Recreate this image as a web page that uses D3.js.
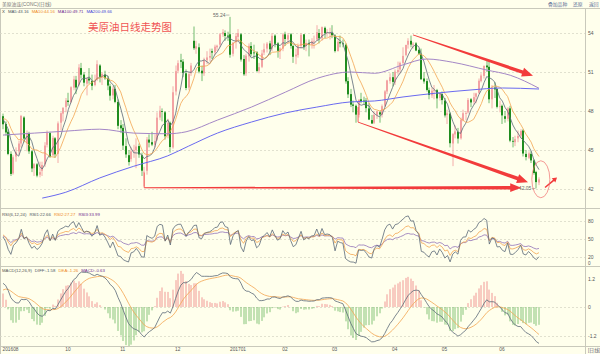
<!DOCTYPE html>
<html>
<head>
<meta charset="utf-8">
<script src="https://cdn.jsdelivr.net/npm/d3@7"></script>
<style>
body{margin:0;background:#fff}
svg{display:block;font-family:"Liberation Sans","Noto Sans CJK SC",sans-serif}
</style>
</head>
<body>
<div id="chart"></div>
<script>
// daily bars [open, high, low, close], one array per month
const aug16 = [
	[47.60,47.80,46.60,46.98],[47.00,47.20,46.10,46.35],[46.40,46.60,44.60,44.70]
];
const sep16 = [
	[44.70,44.90,43.00,43.16],[43.20,44.60,43.10,44.44],[44.50,45.20,44.10,44.83],[44.90,45.70,44.60,45.50],
	[45.50,47.70,45.20,47.62],[47.50,47.60,45.60,45.88],[45.50,46.50,44.90,46.29],[46.30,46.40,44.70,44.90],
	[44.90,45.00,43.30,43.58],[43.60,44.00,43.00,43.91],[43.90,44.00,42.90,43.03],[43.10,44.10,42.90,43.30],
	[43.40,44.10,43.00,43.85],[43.90,45.60,43.70,45.34],[45.40,46.50,45.20,46.32],[46.30,46.40,44.40,44.48],
	[44.60,46.10,44.50,45.93],[45.90,46.00,44.40,44.67],[44.70,47.20,44.00,47.05],[47.10,47.90,46.50,47.83],
	[47.80,48.30,47.20,48.24]
];
const oct16 = [
	[48.30,49.00,47.90,48.81],[48.80,49.40,48.40,48.69],[48.70,49.90,48.60,49.83],[49.80,50.70,49.60,50.44],
	[50.40,50.70,49.30,49.81],[50.00,51.60,49.90,51.35],[51.30,51.70,50.50,50.79],[50.80,51.00,49.90,50.18],
	[50.10,50.60,49.20,50.44],[50.50,51.30,50.10,50.35],[50.30,50.80,49.60,49.94],[50.00,50.80,49.90,50.29],
	[50.40,51.90,50.30,51.60],[51.50,51.60,50.20,50.63],[50.60,51.00,50.00,50.85],[50.80,51.10,50.40,50.52],
	[50.50,50.70,49.60,49.96],[49.90,50.10,48.80,49.18],[49.20,49.90,48.90,49.72],[49.70,50.00,48.60,48.70],
	[48.70,48.90,46.60,46.86]
];
const nov16 = [
	[46.90,47.30,46.30,46.67],[46.70,47.00,45.00,45.34],[45.30,45.90,44.40,44.66],[44.60,45.00,43.80,44.07],
	[44.30,45.20,44.10,44.89],[44.90,45.40,44.40,44.98],[45.00,45.90,43.60,45.27],[45.30,45.50,44.40,44.66],
	[44.60,44.80,43.00,43.41],[43.30,43.70,42.20,43.32],[43.40,46.00,43.10,45.81],[45.80,46.20,45.20,45.57],
	[45.60,46.40,45.30,45.42],[45.40,46.20,45.20,45.69],[45.80,47.90,45.70,47.49],[47.50,48.40,47.30,48.03],
	[48.00,48.20,47.20,47.96],[47.90,48.00,45.80,46.06],[46.10,47.40,45.90,47.08],[47.10,47.20,44.80,45.23],
	[45.20,49.90,45.10,49.44]
];
const dec16 = [
	[49.50,51.50,49.20,51.06],[51.10,51.90,50.90,51.68],[51.90,52.40,51.30,51.79],[51.80,52.00,50.60,50.93],
	[50.90,51.20,49.60,49.77],[49.80,51.00,49.60,50.84],[50.90,51.70,50.70,51.50],[53.40,54.50,52.70,52.83],
	[52.80,53.40,52.40,52.98],[52.90,53.20,50.90,51.04],[51.10,51.50,50.30,50.90],[50.90,52.10,50.70,51.90],
	[51.90,52.60,51.60,52.12],[52.10,52.80,51.80,52.23],[52.60,52.80,52.00,52.49],[52.50,53.10,52.30,52.95],
	[52.90,53.10,52.60,53.02],[53.10,54.00,52.90,53.90],[53.90,54.30,53.70,54.06],[54.00,54.20,53.40,53.77],
	[53.80,54.10,53.40,53.72]
];
const jan17 = [
	[53.90,55.24,52.10,52.33],[52.40,53.30,52.20,53.26],[53.30,54.00,52.80,53.76],[53.70,54.30,53.30,53.99],
	[53.90,54.00,51.80,51.96],[52.00,52.30,50.70,50.82],[50.90,52.40,50.70,52.25],[52.20,53.20,51.80,53.01],
	[53.00,53.30,52.20,52.37],[52.50,53.10,52.00,52.48],[52.50,52.60,51.00,51.08],[51.10,51.70,50.90,51.37],
	[51.40,52.70,51.30,52.42],[52.50,53.20,52.30,52.75],[52.80,53.30,52.50,53.18],[53.20,53.40,52.30,52.75],
	[52.80,54.00,52.60,53.78],[53.80,53.90,52.90,53.17],[53.20,53.30,52.10,52.63],[52.60,52.90,52.00,52.81]
];
const feb17 = [
	[52.80,54.00,52.60,53.88],[53.90,54.10,53.00,53.54],[53.50,54.00,53.20,53.83],[53.90,54.00,52.80,53.01],
	[53.00,53.10,51.70,52.17],[52.20,52.80,51.60,52.34],[52.30,53.20,52.10,53.00],[53.00,54.00,52.80,53.86],
	[53.90,53.90,52.70,52.93],[53.00,53.50,52.60,53.20],[53.20,53.50,52.20,53.11],[53.10,53.60,52.80,53.36],
	[53.40,53.80,52.80,53.40],[53.50,54.60,53.40,54.06],[54.00,54.30,53.20,53.59],[53.60,54.50,53.40,54.45],
	[54.40,54.50,53.60,53.99],[54.00,54.30,53.70,54.05],[54.00,54.40,53.50,54.01]
];
const mar17 = [
	[54.00,54.60,53.60,53.83],[53.80,53.90,52.50,52.61],[52.60,53.60,52.60,53.33],[53.30,53.80,52.90,53.20],
	[53.20,53.50,52.90,53.14],[53.10,53.20,50.10,50.28],[50.30,50.60,49.00,49.28],[49.30,49.70,48.30,48.49],
	[48.50,48.80,47.90,48.40],[48.40,48.50,47.10,47.72],[47.70,48.90,47.50,48.86],[48.90,49.40,48.60,48.75],
	[48.80,49.10,48.50,48.78],[48.80,49.00,47.90,48.22],[48.20,48.60,47.30,47.34],[47.30,47.70,47.00,47.04],
	[47.10,48.00,47.00,47.70],[47.70,48.00,47.40,47.97],[47.90,48.00,47.10,47.73],[47.70,48.50,47.50,48.37],
	[48.40,49.60,48.30,49.51],[49.50,50.40,49.30,50.35],[50.30,50.90,50.10,50.60]
];
const apr17 = [
	[50.60,51.00,49.90,50.24],[50.20,51.20,50.00,51.03],[51.00,51.80,50.80,51.15],[51.20,51.80,50.90,51.70],
	[51.70,52.90,51.60,52.24],[52.30,53.10,52.20,53.08],[53.10,53.60,52.80,53.40],[53.40,53.80,52.90,53.11],
	[53.10,53.30,52.80,53.18],[53.20,53.30,52.60,52.65],[52.70,52.80,52.30,52.41],[52.40,52.80,50.40,50.44],
	[50.50,51.00,50.10,50.27],[50.30,50.50,49.50,49.62],[49.60,49.80,48.90,49.23],[49.20,49.80,49.00,49.56],
	[49.60,50.00,48.90,49.62],[49.60,49.70,48.20,48.97],[49.00,49.40,48.80,49.33]
];
const may17 = [
	[49.30,49.50,48.50,48.84],[48.80,49.00,47.50,47.66],[47.70,48.10,47.00,47.82],[47.80,47.90,45.20,45.52],
	[45.50,46.30,43.76,46.22],[46.20,46.90,45.90,46.43],[46.40,46.70,45.50,45.88],[45.90,47.50,45.80,47.33],
	[47.30,48.10,47.20,47.83],[47.80,48.00,47.30,47.84],[47.90,49.00,47.80,48.85],[48.90,49.00,48.30,48.66],
	[48.70,49.40,48.50,49.07],[49.10,49.40,48.60,49.35],[49.40,50.50,49.30,50.33],[50.30,50.90,50.20,50.73],
	[50.70,51.50,50.50,51.47],[51.50,52.00,51.00,51.36],[51.40,51.90,48.60,48.90],[48.90,50.00,48.20,49.80],
	[49.80,50.20,49.00,49.66],[49.70,49.70,48.20,48.32]
];
const jun17 = [
	[48.30,48.80,47.90,48.36],[48.40,48.50,47.00,47.66],[47.60,48.00,47.10,47.40],[47.40,48.30,47.20,48.19],
	[48.20,48.40,45.60,45.72],[45.70,46.00,45.20,45.64],[45.60,46.10,45.30,45.83],[45.90,46.50,45.60,46.08],
	[46.10,46.60,45.90,46.46],[46.50,46.60,44.50,44.73],[44.70,45.00,44.20,44.46],[44.40,44.90,44.30,44.74],
	[44.70,44.90,44.00,44.20],[44.20,44.30,43.10,43.23],[43.30,43.40,42.05,42.53],[42.50,42.90,42.30,42.74]
];
const months = [aug16, sep16, oct16, nov16, dec16, jan17, feb17, mar17, apr17, may17, jun17];
const monthLabels = ['201608', '', '10', '11', '12', '201701', '02', '03', '04', '05', '06'];

// closes before the first bar, only used to warm up the indicators
const warmupCloses = [46.60,47.43,45.14,45.41,44.76,46.80,44.75,45.68,45.95,45.24,44.65,44.94,44.75,44.19,43.13,42.92,41.92,41.14,41.60,
	40.06,39.51,40.83,41.93,41.80,43.02,42.77,41.71,43.49,44.49,45.74,46.58,46.79,48.22,48.52,47.05,48.10,46.77,47.33,47.64];

// long averages: [bar index, value]
const ma100Reads = [[0,46.15],[12,46.3],[24,46.45],[37,46.6],[50,46.3],[63,46.25],[70,46.4],[82,47.3],[95,48.3],[108,49.45],
	[120,50.5],[133,51.0],[142,50.9],[153,51.55],[162,52.0],[172,51.75],[185,51.15],[194,50.75],[205,49.75]];
const ma200Reads = [[15,41.3],[24,41.75],[37,42.85],[50,43.75],[63,44.55],[71,45.3],[82,46.3],[95,47.15],[108,47.85],
	[120,48.3],[133,48.7],[142,48.77],[153,49.08],[166,49.38],[179,49.62],[191,49.77],[205,49.69]];

const priceTicks = [42, 45, 48, 51, 54];
const rsiTicks = [20, 50, 80];
const macdTicks = [-1.2, 0, 1.2];

const maLegend = [['X', ''], ['MA5', '43.16'], ['MA10', '44.16'], ['MA100', '49.71'], ['MA200', '49.66']];
const rsiLegend = [['RSI(6,12,24)', ''], ['RSI1', '22.66'], ['RSI2', '27.27'], ['RSI3', '33.99']];
const macdLegend = [['MACD(12,26,9)', ''], ['DIFF', '-1.58'], ['DEA', '-1.26'], ['MACD', '-0.63']];

const title = '美原油日线走势图';

const colors = {
	bg: '#ffffec', grid: '#d9d9c8', frame: '#c9c9bb', axisText: '#555',
	up: '#f3a3a3', down: '#1f8c1f', downWick: '#62b462',
	ma5: '#5b6877', ma10: '#f3a550', ma100: '#a487c6', ma200: '#6a6af0',
	rsi1: '#5b6877', rsi2: '#f3a550', rsi3: '#9272b8',
	macdUp: '#ef8c8c', macdDown: '#78bd6e', red: '#f23b3b'
};

const bars = [].concat(...months);
const closes = bars.map(d => d[3]);
const allCloses = warmupCloses.concat(closes);
const nWarm = warmupCloses.length;

const movingAvg = (arr, n) => arr.map((v, i) => i < n - 1 ? null : d3.mean(arr.slice(i - n + 1, i + 1)));
const smaCn = (arr, n) => { let s = null; return arr.map(v => (s = s === null ? v : (v + (n - 1) * s) / n)); };
const ema = (arr, n) => { let s = null; return arr.map(v => (s = s === null ? v : (2 * v + (n - 1) * s) / (n + 1))); };

const ma5 = movingAvg(allCloses, 5).slice(nWarm);
const ma10 = movingAvg(allCloses, 10).slice(nWarm);

const diffs = allCloses.map((v, i) => i === 0 ? 0 : v - allCloses[i - 1]);
const rsi = n => {
	const up = smaCn(diffs.map(d => Math.max(d, 0)), n);
	const ab = smaCn(diffs.map(d => Math.abs(d)), n);
	return up.map((u, i) => ab[i] === 0 ? 50 : u / ab[i] * 100).slice(nWarm);
};
const rsi1 = rsi(6), rsi2 = rsi(12), rsi3 = rsi(24);

const e12 = ema(allCloses, 12), e26 = ema(allCloses, 26);
const difAll = e12.map((v, i) => v - e26[i]);
const deaAll = ema(difAll, 9);
const dif = difAll.slice(nWarm);
const dea = deaAll.slice(nWarm);
const hist = dif.map((v, i) => 2 * (v - dea[i]));

// ---------- layout ----------
const W = 600, H = 354, plotR = 585;
const mainTop = 8, mainBot = 208, rsiBot = 266, macdBot = 346;

const x = d3.scaleLinear().domain([0, bars.length - 1]).range([3, 539]);
const yPrice = d3.scaleLinear().domain([42, 54]).range([189, 33]);
const yRsi = d3.scaleLinear().domain([20, 80]).range([257, 221]);
const yMacd = d3.scaleLinear().domain([-1.2, 1.2]).range([335.5, 278.5]);

const svg = d3.select('#chart').append('svg').attr('width', W).attr('height', H);
svg.append('rect').attr('width', W).attr('height', H).attr('fill', colors.bg);

const defs = svg.append('defs');
[['clipMain', mainTop, mainBot], ['clipRsi', mainBot, rsiBot], ['clipMacd', rsiBot, macdBot]].forEach(([id, t, b]) => {
	defs.append('clipPath').attr('id', id).append('rect').attr('x', 0).attr('y', t).attr('width', plotR).attr('height', b - t);
});

// frame lines
const frame = svg.append('g').attr('stroke', colors.frame).attr('stroke-width', 1);
[mainTop, mainBot, rsiBot, macdBot].forEach(v => frame.append('line').attr('x1', 0).attr('x2', W).attr('y1', v + 0.5).attr('y2', v + 0.5));
frame.append('line').attr('x1', plotR + 0.5).attr('x2', plotR + 0.5).attr('y1', mainTop).attr('y2', H);
frame.append('line').attr('x1', 0.5).attr('x2', 0.5).attr('y1', mainTop).attr('y2', H);

// header bar
const header = svg.append('g').attr('font-size', 4.8);
header.append('text').attr('x', 2).attr('y', 5.5).attr('fill', '#777').text('美原油连(CONC)(日线)');
[['叠加品种', 548], ['还原', 573], ['返回', 589]].forEach(([t, px]) => header.append('text').attr('x', px).attr('y', 5.5).attr('fill', '#5a6e98').text(t));

const gridLines = (ticks, scale) => {
	svg.append('g').selectAll('line').data(ticks).join('line')
		.attr('x1', 0).attr('x2', plotR)
		.attr('y1', d => Math.round(scale(d)) + 0.5).attr('y2', d => Math.round(scale(d)) + 0.5)
		.attr('stroke', colors.grid).attr('stroke-dasharray', '2,2').attr('stroke-width', 0.8);
};
gridLines(priceTicks, yPrice);
gridLines(rsiTicks, yRsi);
gridLines([0, -1.2], yMacd);

const rightAxis = (scale, ticks, fmt) => {
	const g = svg.append('g').attr('transform', `translate(${plotR},0)`)
		.call(d3.axisRight(scale).tickValues(ticks).tickSize(0).tickPadding(3).tickFormat(fmt));
	g.select('.domain').remove();
	g.selectAll('text').attr('font-size', 5).attr('fill', colors.axisText).attr('font-family', 'Liberation Sans');
	return g;
};
rightAxis(yPrice, priceTicks, d => String(d));
rightAxis(yRsi, rsiTicks, d => String(d));
rightAxis(yMacd, macdTicks, d => String(d));
svg.append('text').attr('x', plotR + 3).attr('y', 265).attr('font-size', 4.6).attr('fill', colors.axisText).text('0');

// ---------- main panel ----------
const main = svg.append('g').attr('clip-path', 'url(#clipMain)');
const isUp = d => d[3] >= d[0];
const cx = i => Math.round(x(i));

main.append('g').selectAll('line').data(bars).join('line')
	.attr('x1', (d, i) => cx(i)).attr('x2', (d, i) => cx(i))
	.attr('y1', d => yPrice(d[1])).attr('y2', d => yPrice(d[2]))
	.attr('stroke', d => isUp(d) ? colors.up : colors.downWick).attr('stroke-width', 0.9);

main.append('g').selectAll('rect').data(bars).join('rect')
	.attr('x', (d, i) => cx(i) - 1).attr('width', 2)
	.attr('y', d => yPrice(Math.max(d[0], d[3])))
	.attr('height', d => Math.max(0.8, Math.abs(yPrice(d[0]) - yPrice(d[3]))))
	.attr('fill', d => isUp(d) ? colors.up : colors.down);

const line = d3.line().defined(d => d != null).x((d, i) => x(i));
const drawSeries = (g, data, scale, color, w) => {
	g.append('path').datum(data)
		.attr('d', line.y(d => scale(d))).attr('fill', 'none')
		.attr('stroke', color).attr('stroke-width', w);
};
drawSeries(main, ma5, yPrice, colors.ma5, 0.8);
drawSeries(main, ma10, yPrice, colors.ma10, 0.8);

const readLine = d3.line().x(d => x(d[0])).y(d => yPrice(d[1])).curve(d3.curveMonotoneX);
main.append('path').datum(ma100Reads).attr('d', readLine).attr('fill', 'none').attr('stroke', colors.ma100).attr('stroke-width', 1);
main.append('path').datum(ma200Reads).attr('d', readLine).attr('fill', 'none').attr('stroke', colors.ma200).attr('stroke-width', 1);

// max / min labels
const hiIdx = d3.maxIndex(bars, d => d[1]);
const loIdx = d3.minIndex(bars, d => d[2]);
const markLabel = (i, v, dy) => {
	const px = x(i), py = yPrice(v);
	main.append('line').attr('x1', px - 4.5).attr('x2', px - 1).attr('y1', py + dy - 1.8).attr('y2', py + dy - 1.8)
		.attr('stroke', '#777').attr('stroke-width', 0.5);
	main.append('text').attr('x', px - 5).attr('y', py + dy).attr('text-anchor', 'end')
		.attr('font-size', 5).attr('fill', '#666').text(v.toFixed(2));
};
markLabel(hiIdx, bars[hiIdx][1], 0);
markLabel(loIdx, bars[loIdx][2], 2);

// hand-drawn annotations, in data coordinates [bar index, price]
const arrows = [
	{from: [156.8, 53.85], to: [202.7, 50.72], w0: 0.8, w1: 3.6, head: 11, half: 4.6},
	{from: [135.8, 47.15], to: [200.8, 42.52], w0: 0.8, w1: 3.6, head: 11, half: 4.6},
	{from: [54, 42.1], to: [198.2, 42.1], w0: 0.9, w1: 3.4, head: 11, half: 4.4},
	{from: [207.3, 42.12], to: [211.9, 42.88], w0: 1.4, w1: 1.8, head: 4.5, half: 2.8}
];
const ticksUp = [[54, 43.25, 42.1], [135.8, 48.3, 47.15]];

const annot = svg.append('g');
arrows.forEach(a => {
	const p0 = [x(a.from[0]), yPrice(a.from[1])], p1 = [x(a.to[0]), yPrice(a.to[1])];
	const dx = p1[0] - p0[0], dy = p1[1] - p0[1], L = Math.hypot(dx, dy);
	const ux = dx / L, uy = dy / L, nx = -uy, ny = ux;
	const b = [p1[0] - ux * a.head, p1[1] - uy * a.head];
	const pts = [
		[p0[0] + nx * a.w0 / 2, p0[1] + ny * a.w0 / 2],
		[b[0] + nx * a.w1 / 2, b[1] + ny * a.w1 / 2],
		[b[0] + nx * a.half, b[1] + ny * a.half],
		p1,
		[b[0] - nx * a.half, b[1] - ny * a.half],
		[b[0] - nx * a.w1 / 2, b[1] - ny * a.w1 / 2],
		[p0[0] - nx * a.w0 / 2, p0[1] - ny * a.w0 / 2]
	];
	annot.append('polygon').attr('points', pts.map(p => p.join(',')).join(' ')).attr('fill', colors.red);
});
ticksUp.forEach(([i, a, b]) => annot.append('line')
	.attr('x1', x(i)).attr('x2', x(i)).attr('y1', yPrice(a)).attr('y2', yPrice(b))
	.attr('stroke', colors.red).attr('stroke-width', 0.8));
annot.append('ellipse').attr('cx', x(205.7)).attr('cy', yPrice(42.75)).attr('rx', 9).attr('ry', 18.5)
	.attr('fill', 'none').attr('stroke', '#f07070').attr('stroke-width', 0.7);

annot.append('text').attr('x', 88).attr('y', 31).attr('font-size', 10.5)
	.attr('font-family', '"Noto Sans CJK SC"').attr('fill', '#f05454').text(title);

// ---------- RSI panel ----------
const rsiG = svg.append('g').attr('clip-path', 'url(#clipRsi)');
drawSeries(rsiG, rsi3, yRsi, colors.rsi3, 0.8);
drawSeries(rsiG, rsi2, yRsi, colors.rsi2, 0.8);
drawSeries(rsiG, rsi1, yRsi, colors.rsi1, 0.8);

// ---------- MACD panel ----------
const macdG = svg.append('g').attr('clip-path', 'url(#clipMacd)');
macdG.append('g').selectAll('line').data(hist).join('line')
	.attr('x1', (d, i) => cx(i)).attr('x2', (d, i) => cx(i))
	.attr('y1', yMacd(0)).attr('y2', d => yMacd(d))
	.attr('stroke', d => d >= 0 ? colors.macdUp : colors.macdDown).attr('stroke-width', 0.9);
drawSeries(macdG, dea, yMacd, colors.ma10, 0.8);
drawSeries(macdG, dif, yMacd, colors.ma5, 0.8);

// ---------- legends: each item placed after the previous one ----------
const legend = (items, y, cols) => {
	const g = svg.append('g').attr('font-size', 4.3);
	let cursor = 2;
	items.forEach(([k, v], j) => {
		const t = g.append('text').attr('x', cursor).attr('y', y).attr('fill', cols[j])
			.text(v === '' ? k : `${k}:${v}`);
		cursor += t.node().getComputedTextLength() + 3;
	});
};
legend(maLegend, 13, ['#444', '#4a5563', '#ee8a1c', '#702a90', '#4545d8']);
legend(rsiLegend, 216, ['#555', '#4a5563', '#ee8a1c', '#702a90']);
legend(macdLegend, 272, ['#555', '#4a5563', '#ee8a1c', '#702a90']);

// ---------- bottom axis ----------
const starts = [];
months.reduce((acc, m) => { starts.push(acc); return acc + m.length; }, 0);
const tickIdx = starts.filter((s, j) => monthLabels[j] !== '');
const tickLab = monthLabels.filter(l => l !== '');
const xAxis = svg.append('g').attr('transform', `translate(0,${macdBot})`)
	.call(d3.axisBottom(x).tickValues(tickIdx).tickSize(0).tickPadding(2).tickFormat((d, j) => tickLab[j]));
xAxis.select('.domain').remove();
xAxis.selectAll('text').attr('font-size', 4.8).attr('fill', colors.axisText).attr('text-anchor', 'start')
	.attr('font-family', 'Liberation Sans').attr('dx', -1);
svg.append('text').attr('x', plotR + 3).attr('y', 352).attr('font-size', 4.8).attr('fill', '#667').text('[日线]');
</script>
</body>
</html>
